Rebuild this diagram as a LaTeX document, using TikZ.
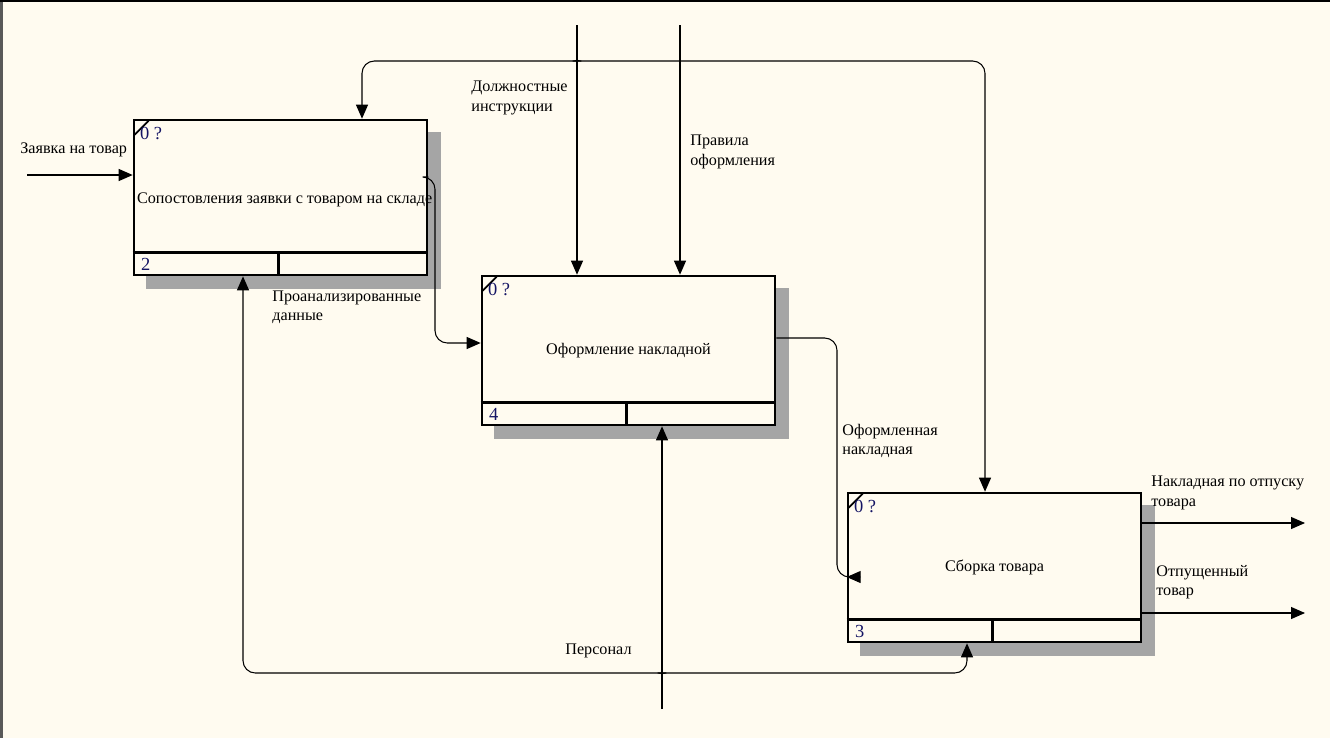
\documentclass[tikz,border=0pt]{standalone}
\usepackage{fontspec}
\setmainfont{Liberation Serif}
\usetikzlibrary{arrows.meta,calc,positioning,backgrounds}
\definecolor{papercream}{RGB}{255,251,240}
\definecolor{idefnavy}{RGB}{20,20,100}
\definecolor{shadowgray}{RGB}{165,165,165}

\begin{document}
\begin{tikzpicture}[x=0.2mm, y=-0.2mm,
        font=\fontsize{9.2}{11}\selectfont,
        fbox/.style={draw, line width=1.5pt, fill=papercream, minimum width=58.6mm, inner sep=0, align=center},
        wire/.style={line width=0.6pt},
        arr/.style={wire, -{Triangle[length=2.8mm, width=2.4mm]}},
        lbl/.style={anchor=west, inner sep=0, align=left},
        tag/.style={anchor=west, inner sep=0, text=idefnavy, font=\fontsize{10.5}{12}\selectfont}]
            \useasboundingbox (0,0) rectangle (1330,738);

            % Blocchi funzionali
            \node[fbox, minimum height=31mm] (b2) at (280.5,197.5) {};
            \node[lbl] (t2) at ($(b2.west)+(4,2)$) {Сопостовления заявки с товаром на складе};
            \node[fbox, minimum height=29.8mm] (b4) at (628.5,350.5) {Оформление накладной};
            \node[fbox, minimum height=29.8mm] (b3) at (994.5,567.5) {Сборка товара};

            % Sfondo e ombre
            \begin{scope}[on background layer]
                \fill[papercream] (0,0) rectangle (1330,738);
                \foreach \b in {b2,b4,b3}
                    \fill[shadowgray] ($(\b.north west)+(13,13)$) rectangle ($(\b.south east)+(13,13)$);
            \end{scope}

            % Bordo della finestra
            \fill[gray!70!black] (0,0) rectangle (2.5,738);
            \draw[wire] (0,1) -- (1330,1);
            \foreach \x in {120,655,698,921,1141}
                \draw[wire] (\x,0) -- (\x,1);

            % Riga inferiore, angolo e numeri
            \foreach \b/\n in {b2/2,b4/4,b3/3} {
                \draw[line width=1.5pt] ($(\b.south west)+(0,-24)$) -- ($(\b.south east)+(0,-24)$);
                \draw[line width=1.5pt] ($(\b.south west)+(146,-24)$) -- ($(\b.south west)+(146,0)$);
                \draw[line width=1pt] ($(\b.north west)+(2,16)$) -- ($(\b.north west)+(16,2)$);
                \node[tag] at ($(\b.north west)+(7,15)$) {0 ?};
                \node[tag] at ($(\b.south west)+(8,-12)$) {\n};
            }

            % Ingresso
            \coordinate (in1) at (27,175);
            \draw[arr] (in1) -- (in1 -| b2.west);
            \node[lbl] at (20,150) {Заявка на товар};

            % Controlli dall'alto
            \coordinate (c1) at (577,25);
            \coordinate (c2) at (680,25);
            \coordinate (jt) at (577,61);
            \coordinate (k2) at (362,61);
            \coordinate (k3) at (985,61);
            \draw[arr] (c1) -- (c1 |- b4.north);
            \draw[arr] (c2) -- (c2 |- b4.north);
            \draw[arr, rounded corners=7] ($(jt)+(0,-7)$) .. controls ($(jt)+(0,-2)$) and ($(jt)+(-2,0)$) .. ($(jt)+(-8,0)$)
                -- (k2) -- (k2 |- b2.north);
            \draw[arr, rounded corners=7] ($(jt)+(0,-7)$) .. controls ($(jt)+(0,-2)$) and ($(jt)+(2,0)$) .. ($(jt)+(8,0)$)
                -- (k3) -- (k3 |- b3.north);
            \node[lbl] at (471,98) {Должностные\\инструкции};
            \node[lbl] at (690,152) {Правила\\оформления};

            % Da blocco 2 a blocco 4
            \coordinate (o2) at (435,177);
            \coordinate (i4) at (435,343);
            \draw[arr, rounded corners=7] (o2 -| b2.east) -- (o2) -- (i4) -- (i4 -| b4.west);
            \node[lbl] at (272,307) {Проанализированные\\данные};

            % Da blocco 4 a blocco 3
            \coordinate (o4) at (837,338);
            \coordinate (i3) at (837,577);
            \draw[arr, rounded corners=7] (o4 -| b4.east) -- (o4) -- (i3) -- (i3 -| b3.west);
            \node[lbl] at (842,441) {Оформленная\\накладная};

            % Uscite
            \coordinate (out1) at (1305,523);
            \coordinate (out2) at (1305,613);
            \draw[arr] (out1 -| b3.east) -- (out1);
            \draw[arr] (out2 -| b3.east) -- (out2);
            \node[lbl] at (1151,493) {Накладная по отпуску\\товара};
            \node[lbl] at (1156,582) {Отпущенный\\товар};

            % Meccanismi dal basso
            \coordinate (mb) at (662,709);
            \coordinate (jb) at (662,673);
            \coordinate (m2) at (243,673);
            \coordinate (m3) at (967,673);
            \draw[arr] (mb) -- (mb |- b4.south);
            \draw[arr, rounded corners=7] ($(jb)+(0,7)$) .. controls ($(jb)+(0,2)$) and ($(jb)+(-2,0)$) .. ($(jb)+(-8,0)$)
                -- (m2) -- (m2 |- b2.south);
            \draw[arr, rounded corners=7] ($(jb)+(0,7)$) .. controls ($(jb)+(0,2)$) and ($(jb)+(2,0)$) .. ($(jb)+(8,0)$)
                -- (m3) -- (m3 |- b3.south);
            \node[lbl] at (565,651) {Персонал};
        \end{tikzpicture}
\end{document}
